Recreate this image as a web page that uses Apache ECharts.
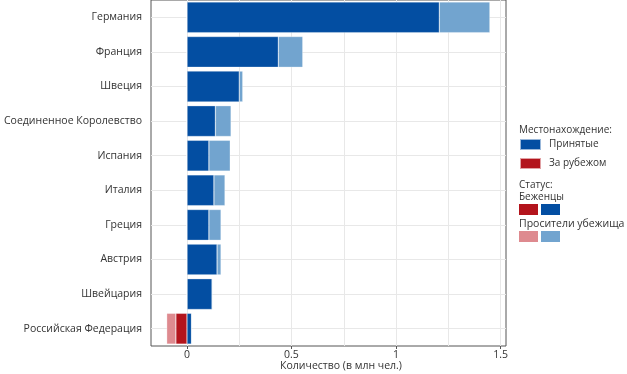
<!DOCTYPE html>
<html>
<head>
<meta charset="utf-8">
<script src="https://cdn.jsdelivr.net/npm/echarts@6/dist/echarts.min.js"></script>
<style>
html,body{margin:0;padding:0;background:#fff;}
#main{width:627px;height:374px;}
</style>
</head>
<body>
<div id="main"></div>
<script>
const categories = ['Германия','Франция','Швеция','Соединенное Королевство','Испания','Италия','Греция','Австрия','Швейцария','Российская Федерация'];
const refugeesIn  = [1.207,0.437,0.250,0.136,0.105,0.129,0.105,0.144,0.120,0.022];
const asylumIn    = [0.242,0.117,0.017,0.075,0.102,0.053,0.058,0.019,0.003,0.000];
const refugeesOut = [-0.002,-0.002,-0.002,-0.002,-0.002,-0.002,-0.002,-0.002,-0.001,-0.053];
const asylumOut   = [0,0,0,0,0,0,0,0,0,-0.044];
const xTicks = [0,0.5,1,1.5];
const xGrid = [0,0.25,0.5,0.75,1,1.25,1.5];
const xMin = -0.172, xMax = 1.526;

const FONT = 'Open Sans';
const darkBlue = '#034EA2', lightBlue = '#72A4CF', darkRed = '#B3141C', lightRed = '#DE8A8F';

const chart = echarts.init(document.getElementById('main'), null, {renderer:'canvas'});
const gridLineStyle = {color:'#e8e8e8', width:1, type:'solid'};
const barBase = {type:'bar', stack:'total', barCategoryGap:'11%', itemStyle:{borderColor:'rgba(255,255,255,0.6)', borderWidth:0.5}, emphasis:{disabled:true}};

const option = {
  animation:false,
  textStyle:{fontFamily:FONT},
  grid:{left:151, right:121, top:0, bottom:28, show:true, borderColor:'#555', borderWidth:1, containLabel:false},
  xAxis:{
    type:'value', min:xMin, max:xMax,
    axisLine:{show:false},
    axisTick:{show:true, customValues:xTicks, length:3, lineStyle:{color:'#555'}},
    axisLabel:{show:true, customValues:xTicks, fontSize:10.5, color:'#333', margin:4, fontFamily:FONT,
      formatter:v=>String(v)},
    splitLine:{show:false}
  },
  yAxis:{
    type:'category', data:categories, inverse:true,
    axisLine:{show:false},
    axisTick:{show:true, alignWithLabel:true, length:3, lineStyle:{color:'#555'}},
    axisLabel:{fontSize:10.5, color:'#333', margin:9, fontFamily:FONT},
    splitLine:{show:false}
  },
  legend:{
    orient:'vertical', left:519, top:138, padding:0, itemWidth:21, itemHeight:11, itemGap:6,
    icon:'rect', data:['Принятые','За рубежом'],
    textStyle:{fontSize:10, color:'#333', fontFamily:FONT, padding:[0,0,0,3]},
    selectedMode:false
  },
  graphic:[
    {type:'text', left:519, top:125, style:{text:'Местонахождение:', fontSize:10, fill:'#333', fontFamily:FONT}},
    {type:'text', left:519, top:180, style:{text:'Статус:', fontSize:10, fill:'#333', fontFamily:FONT}},
    {type:'text', left:519, top:192, style:{text:'Беженцы', fontSize:10, fill:'#333', fontFamily:FONT}},
    {type:'rect', shape:{x:519, y:204, width:19, height:11}, style:{fill:darkRed}},
    {type:'rect', shape:{x:541, y:204, width:19, height:11}, style:{fill:darkBlue}},
    {type:'text', left:519, top:219, style:{text:'Просители убежища', fontSize:10.5, fill:'#333', fontFamily:FONT}},
    {type:'rect', shape:{x:519, y:231, width:19, height:11}, style:{fill:lightRed}},
    {type:'rect', shape:{x:541, y:231, width:19, height:11}, style:{fill:lightBlue}},
    {type:'text', x:341, y:366, style:{text:'Количество (в млн чел.)', fontSize:10.5, fill:'#333', fontFamily:FONT, align:'center', verticalAlign:'middle'}}
  ],
  series:[
    Object.assign({}, barBase, {name:'Принятые', data:refugeesIn, itemStyle:Object.assign({}, barBase.itemStyle, {color:darkBlue}),
      markLine:{silent:true, symbol:['none','none'], z:1, label:{show:false}, lineStyle:gridLineStyle, animation:false,
        data: xGrid.map(v=>({xAxis:v})).concat(categories.map(c=>({yAxis:c})))}}),
    Object.assign({}, barBase, {name:'Просители (принятые)', data:asylumIn, itemStyle:Object.assign({}, barBase.itemStyle, {color:lightBlue})}),
    Object.assign({}, barBase, {name:'За рубежом', data:refugeesOut, itemStyle:Object.assign({}, barBase.itemStyle, {color:darkRed})}),
    Object.assign({}, barBase, {name:'Просители (за рубежом)', data:asylumOut, itemStyle:Object.assign({}, barBase.itemStyle, {color:lightRed})})
  ]
};
chart.setOption(option);
</script>
</body>
</html>
